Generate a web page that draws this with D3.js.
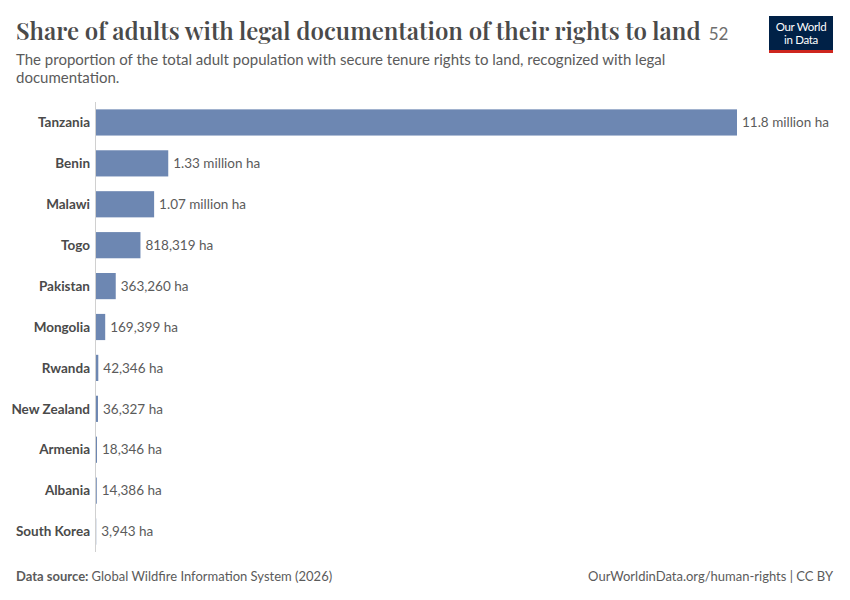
<!DOCTYPE html>
<html>
<head>
<meta charset="utf-8">
<script src="https://cdn.jsdelivr.net/npm/d3@7/dist/d3.min.js"></script>
<style>
  body { margin: 0; background: #fff; }
  text { font-family: Lato, "Noto Sans", sans-serif; }
</style>
</head>
<body>
<div id="chart"></div>
<script>
// values
const countries = ["Tanzania", "Benin", "Malawi", "Togo", "Pakistan", "Mongolia",
    "Rwanda", "New Zealand", "Armenia", "Albania", "South Korea"];
const hectares = [11800000, 1330000, 1070000, 818319, 363260, 169399,
    42346, 36327, 18346, 14386, 3943];
const valueLabels = ["11.8 million ha", "1.33 million ha", "1.07 million ha", "818,319 ha",
    "363,260 ha", "169,399 ha", "42,346 ha", "36,327 ha", "18,346 ha", "14,386 ha", "3,943 ha"];

let width = 850;
let height = 600;
let svg = d3.select("#chart").append("svg")
    .attr("width", width)
    .attr("height", height);

// header
let title = svg.append("text")
    .attr("x", 16)
    .attr("y", 40)
    .style("font-family", "'Playfair Display', 'Liberation Serif', 'DejaVu Serif', serif")
    .style("font-size", "24px")
    .style("font-weight", 600)
    .style("fill", "#4a4a4a")
    .text("Share of adults with legal documentation of their rights to land");
let tw = title.node().getComputedTextLength();
svg.append("text")
    .attr("x", 16 + tw + 8)
    .attr("y", 40)
    .style("font-size", "17px")
    .style("fill", "#6e6e6e")
    .text("52");

let sub = ["The proportion of the total adult population with secure tenure rights to land, recognized with legal",
    "documentation."];
sub.forEach(function (s, i) {
    svg.append("text")
        .attr("x", 16)
        .attr("y", 65 + i * 18)
        .style("font-size", "15px")
        .style("fill", "#5b5b5b")
        .text(s);
});

// logo
let logo = svg.append("g").attr("transform", "translate(769,16)");
logo.append("rect").attr("width", 64).attr("height", 34).attr("fill", "#002147");
logo.append("rect").attr("y", 34).attr("width", 64).attr("height", 3).attr("fill", "#ce261e");
logo.append("text").attr("x", 32).attr("y", 15).attr("text-anchor", "middle")
    .style("font-size", "11.5px").style("fill", "#fff").style("letter-spacing", "-0.3px").text("Our World");
logo.append("text").attr("x", 32).attr("y", 28).attr("text-anchor", "middle")
    .style("font-size", "11.5px").style("fill", "#fff").style("letter-spacing", "-0.3px").text("in Data");

// scales
let x_scale = d3.scaleLinear()
    .domain([0, d3.max(hectares)])
    .range([96, 737]);
let y_scale = d3.scaleBand()
    .domain(countries)
    .range([102, 552])
    .paddingInner(0.36)
    .paddingOuter(0.18);

svg.append("line")
    .attr("x1", 95.5).attr("x2", 95.5)
    .attr("y1", 102).attr("y2", 552)
    .attr("stroke", "#d0d0d0");

let rows = svg.selectAll(".row")
    .data(countries)
    .enter()
    .append("g")
    .attr("class", "row");

rows.append("rect")
    .attr("x", x_scale(0))
    .attr("y", d => y_scale(d))
    .attr("width", (d, i) => x_scale(hectares[i]) - x_scale(0))
    .attr("height", y_scale.bandwidth())
    .attr("fill", "#6d87b2");

rows.append("text")
    .attr("x", 90)
    .attr("y", d => y_scale(d) + y_scale.bandwidth() / 2)
    .attr("dy", "0.35em")
    .attr("text-anchor", "end")
    .style("font-size", "13.5px")
    .style("font-weight", 700)
    .style("fill", "#4a4a4a")
    .text(d => d);

rows.append("text")
    .attr("x", (d, i) => x_scale(hectares[i]) + 5)
    .attr("y", d => y_scale(d) + y_scale.bandwidth() / 2)
    .attr("dy", "0.35em")
    .style("font-size", "13.5px")
    .style("fill", "#5b5b5b")
    .text((d, i) => valueLabels[i]);

// footer
let foot = svg.append("text")
    .attr("x", 16)
    .attr("y", 581)
    .style("font-size", "13px")
    .style("fill", "#5b5b5b");
foot.append("tspan").style("font-weight", 700).text("Data source: ");
foot.append("tspan").text("Global Wildfire Information System (2026)");

svg.append("text")
    .attr("x", 833)
    .attr("y", 581)
    .attr("text-anchor", "end")
    .style("font-size", "13px")
    .style("fill", "#5b5b5b")
    .text("OurWorldinData.org/human-rights | CC BY");
</script>
</body>
</html>
